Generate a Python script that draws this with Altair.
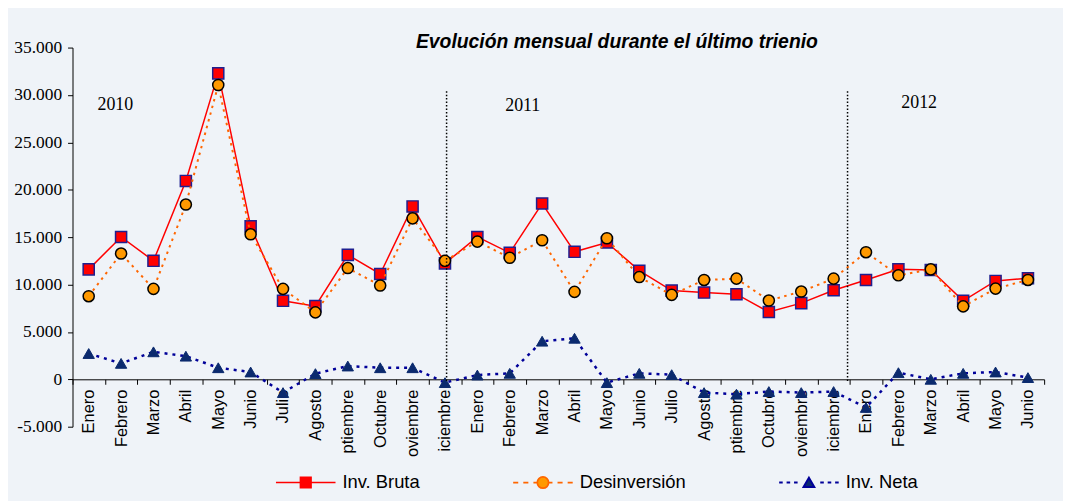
import altair as alt
import pandas as pd

# ---- data ----
month_labels = ["Enero", "Febrero", "Marzo", "Abril", "Mayo", "Junio", "Julio", "Agosto",
                "ptiembre", "Octubre", "oviembre", "iciembre",
                "Enero", "Febrero", "Marzo", "Abril", "Mayo", "Junio", "Julio", "Agosto",
                "ptiembre", "Octubre", "oviembre", "iciembre",
                "Enero", "Febrero", "Marzo", "Abril", "Mayo", "Junio"]
years = ["2010"] * 12 + ["2011"] * 12 + ["2012"] * 6

inv_bruta = [11600, 15020, 12500, 20930, 32280, 16140, 8280, 7720, 13130, 11110, 18240, 12230,
             15020, 13340, 18550, 13450, 14430, 11460, 9360, 9150, 8980, 7100, 8040, 9400,
             10480, 11600, 11530, 8280, 10380, 10660]
desinversion = [8770, 13270, 9540, 18440, 31050, 15300, 9540, 7060, 11740, 9890, 16980, 12500,
                14530, 12820, 14670, 9220, 14880, 10790, 8910, 10480, 10620, 8310, 9260, 10620,
                13410, 10970, 11600, 7690, 9570, 10480]
inv_neta = [2720, 1680, 2900, 2440, 1220, 770, -1400, 600, 1400, 1220, 1220, -350,
            450, 630, 4020, 4330, -350, 630, 490, -1400, -1570, -1290, -1400, -1290,
            -2970, 700, 0, 630, 770, 180]

series_names = ["Inv. Bruta", "Desinversión", "Inv. Neta"]
y_ticks = [-5000, 0, 5000, 10000, 15000, 20000, 25000, 30000, 35000]

# annotations: year captions and separators
year_text = ["2010", "2011", "2012"]
year_anchor = [0, 13, 25]          # category index the caption hangs from
year_band = [0.77, 0.36, 0.59]
year_value = [28900, 28800, 29100]
sep_anchor = [11, 23]
sep_band = [0.55, 0.93]
sep_top, sep_bottom = 30400, -400

# ---- build ----
keys = [f"{m}|{y}" for m, y in zip(month_labels, years)]
df = pd.DataFrame({"key": keys, "bruta": inv_bruta, "desinv": desinversion, "neta": inv_neta})

W, H = 979, 382
FONT_SANS = "Liberation Sans"
FONT_SERIF = "Liberation Serif"

xscale = alt.Scale(type="band", domain=keys, paddingInner=0, paddingOuter=0)
yscale = alt.Scale(domain=[-5000, 35000], nice=False, zero=False)

xaxis = alt.Axis(title=None, orient="bottom", offset=-H / 8,
                 labelExpr="isString(datum.value) ? split(datum.value, '|')[0] : ''",
                 labelAngle=270, labelAlign="right", labelBaseline="middle",
                 labelPadding=5, labelFont=FONT_SANS, labelFontSize=16.5,
                 labelColor="black", labelOverlap=False,
                 tickBand="extent", tickSize=5, tickColor="black",
                 domainColor="black", domainWidth=1, grid=False)
yaxis = alt.Axis(title=None, values=y_ticks,
                 labelExpr="(datum.value < 0 ? '-' : '') + replace(format(abs(datum.value), ','), ',', '.')",
                 labelFont=FONT_SERIF, labelFontSize=17.5, labelColor="black",
                 labelPadding=6, tickSize=5, tickColor="black",
                 domainColor="black", domainWidth=1, grid=False)


def X(**kw):
    return alt.X("key:N", scale=xscale, axis=xaxis, **kw)


def Y(field):
    return alt.Y(f"{field}:Q", scale=yscale, axis=yaxis)


base = alt.Chart(df)
layers = [
    base.mark_line(color="#ff0000", strokeWidth=1.5).encode(x=X(), y=Y("bruta")),
    base.mark_point(shape="square", filled=True, size=125, fill="#ff0000",
                    stroke="#1f1f8f", strokeWidth=1.5, opacity=1).encode(x=X(), y=Y("bruta")),
    base.mark_line(color="#ff6600", strokeWidth=2, strokeDash=[2.5, 4.5]).encode(x=X(), y=Y("desinv")),
    base.mark_point(shape="circle", filled=True, size=125, fill="#ff9900",
                    stroke="black", strokeWidth=1.5, opacity=1).encode(x=X(), y=Y("desinv")),
    base.mark_line(color="#000099", strokeWidth=2.5, strokeDash=[3, 5]).encode(x=X(), y=Y("neta")),
    base.mark_point(shape="triangle-up", filled=True, size=130, fill="#0b2a6e",
                    stroke="#0b2a6e", strokeWidth=1, opacity=1).encode(x=X(), y=Y("neta")),
]

for a, b in zip(sep_anchor, sep_band):
    sdf = pd.DataFrame({"key": [keys[a]], "top": [sep_top], "bottom": [sep_bottom]})
    layers.append(
        alt.Chart(sdf).mark_rule(color="black", strokeWidth=1.5, strokeDash=[1.5, 2]).encode(
            x=X(bandPosition=b), y=Y("top"), y2="bottom"))

for t, a, b, v in zip(year_text, year_anchor, year_band, year_value):
    tdf = pd.DataFrame({"key": [keys[a]], "v": [v], "t": [t]})
    layers.append(
        alt.Chart(tdf).mark_text(font=FONT_SERIF, fontSize=18, color="black",
                                 align="left", baseline="middle").encode(
            x=X(bandPosition=b), y=Y("v"), text="t:N"))

# legend: one entry per series, symbol = line segment(s) + marker
legend_paths = [
    "M-1,0H-0.18M0.18,0H1M-0.18,-0.18H0.18V0.18H-0.18Z",
    "M-1,0H-0.83M-0.66,0H-0.49M-0.32,0H-0.2M0.2,0H0.32M0.49,0H0.66M0.83,0H1"
    "M0.19,0A0.19,0.19,0,1,1,-0.19,0A0.19,0.19,0,1,1,0.19,0Z",
    "M-1,0H-0.88M-0.75,0H-0.63M-0.5,0H-0.38M0.38,0H0.5M0.63,0H0.75M0.88,0H1"
    "M0,-0.16L0.18,0.15H-0.18Z",
]
leg = alt.Legend(orient="none", legendX=204, legendY=407, direction="horizontal",
                 title=None, symbolSize=3600, labelFont=FONT_SANS, labelFontSize=18.5,
                 labelColor="black", labelOffset=6, columnPadding=90, padding=0)

leg_df = pd.DataFrame({"series": series_names})
layers.append(
    alt.Chart(leg_df).transform_filter("false").mark_point(filled=True, opacity=1).encode(
        shape=alt.Shape("series:N", scale=alt.Scale(domain=series_names, range=legend_paths),
                        legend=leg),
        fill=alt.Fill("series:N", scale=alt.Scale(domain=series_names,
                                                  range=["#ff0000", "#ff9900", "#0b2a6e"]),
                      legend=leg),
        stroke=alt.Stroke("series:N", scale=alt.Scale(domain=series_names,
                                                      range=["#ff0000", "#ff6600", "#000099"]),
                          legend=leg),
        strokeWidth=alt.StrokeWidth("series:N", scale=alt.Scale(domain=series_names,
                                                                range=[1.5, 2, 2.2]),
                                    legend=leg)))

chart = alt.layer(*layers).properties(
    width=W, height=H,
    title=alt.TitleParams("Evolución mensual durante el último trienio", anchor="start",
                          frame="group", dx=346, dy=18, font=FONT_SANS, fontSize=19.5,
                          fontStyle="italic", fontWeight="bold", color="black"),
    autosize=alt.AutoSizeParams(type="none"),
    padding={"left": 65, "top": 38, "right": 19, "bottom": 73},
    background="#eff3f8",
).configure_view(stroke=None)

chart.save("out.html", embed_options={"renderer": "svg", "actions": False})
